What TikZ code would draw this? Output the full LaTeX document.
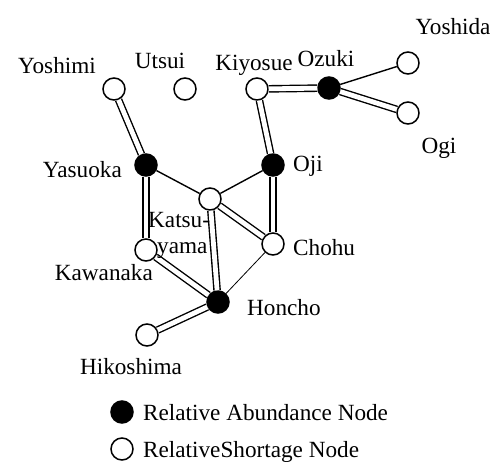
\documentclass[tikz,border=0pt]{standalone}
\usepackage{fontspec}
\setmainfont{Liberation Serif}
\begin{document}
\begin{tikzpicture}[x=1pt,y=-1pt,
  wn/.style={circle,draw=black,fill=white,line width=1.5pt,minimum size=22pt,inner sep=0pt},
  bn/.style={circle,draw=black,fill=black,line width=1.5pt,minimum size=22pt,inner sep=0pt},
  lbl/.style={inner sep=0pt,font=\fontsize{23.2}{27}\selectfont},
  dbl/.style={draw=black,line width=1.4pt,double=white,double distance=4.8pt},
  sgl/.style={draw=black,line width=1.4pt},
  thin/.style={draw=black,line width=0.8pt}]
\useasboundingbox (0,0) rectangle (501,466);
% nodes
\node[wn] (yoshimi) at (114,89) {};
\node[wn] (utsui) at (185,89) {};
\node[wn] (kiyosue) at (257,89) {};
\node[bn] (ozuki) at (329,88) {};
\node[wn] (yoshida) at (408,63) {};
\node[wn] (ogi) at (408,113) {};
\node[bn] (yasuoka) at (146,165) {};
\node[bn] (oji) at (273,165) {};
\node[wn] (katsuyama) at (210,199) {};
\node[wn] (kawanaka) at (146,250) {};
\node[wn] (chohu) at (273,244) {};
\node[bn] (honcho) at (218,302) {};
\node[wn] (hikoshima) at (147,335) {};
% edges
\draw[dbl] (yoshimi) -- (yasuoka);
\draw[dbl] (kiyosue) -- (oji);
\draw[dbl] (kiyosue) -- (ozuki);
\draw[sgl] (ozuki) -- (yoshida);
\draw[dbl] (ozuki) -- (ogi);
\draw[sgl] (yasuoka) -- (katsuyama);
\draw[sgl] (katsuyama) -- (oji);
\draw[dbl] (yasuoka) -- (kawanaka);
\draw[dbl] (oji) -- (chohu);
\draw[dbl] (katsuyama) -- (chohu);
\draw[dbl] (katsuyama) -- (honcho);
\draw[dbl] (kawanaka) -- (honcho);
\draw[thin] (chohu) -- (honcho);
\draw[dbl] (honcho) -- (hikoshima);
% labels
\node[lbl,anchor=base] (t-yoshida) at (453,34) {Yoshida};
\node[lbl,anchor=base] (t-yoshimi) at (57,73) {Yoshimi};
\node[lbl,anchor=base] (t-utsui) at (160,68) {Utsui};
\node[lbl,anchor=base] (t-kiyosue) at (254,70) {Kiyosue};
\node[lbl,anchor=base] (t-ozuki) at (326,66) {Ozuki};
\node[lbl,anchor=base] (t-ogi) at (439,153) {Ogi};
\node[lbl,anchor=base east] (t-yasuoka) at (122,177) {Yasuoka};
\node[lbl,anchor=base west] (t-oji) at (293,171) {Oji};
\node[lbl,anchor=base west] (t-katsu) at (148,227) {Katsu-};
\node[lbl,anchor=base west] (t-yama) at (157,253) {yama};
\node[lbl,anchor=base west] (t-chohu) at (293,255) {Chohu};
\node[lbl,anchor=base east] (t-kawanaka) at (153,280) {Kawanaka};
\node[lbl,anchor=base west] (t-honcho) at (247,315) {Honcho};
\node[lbl,anchor=base] (t-hikoshima) at (131,374) {Hikoshima};
% legend
\node[bn] (leg-b) at (122,412) {};
\node[wn] (leg-w) at (122,449) {};
\node[lbl,anchor=base west] (t-leg-b) at (143,420) {Relative Abundance Node};
\node[lbl,anchor=base west] (t-leg-w) at (143,457) {RelativeShortage Node};
\end{tikzpicture}
\end{document}
